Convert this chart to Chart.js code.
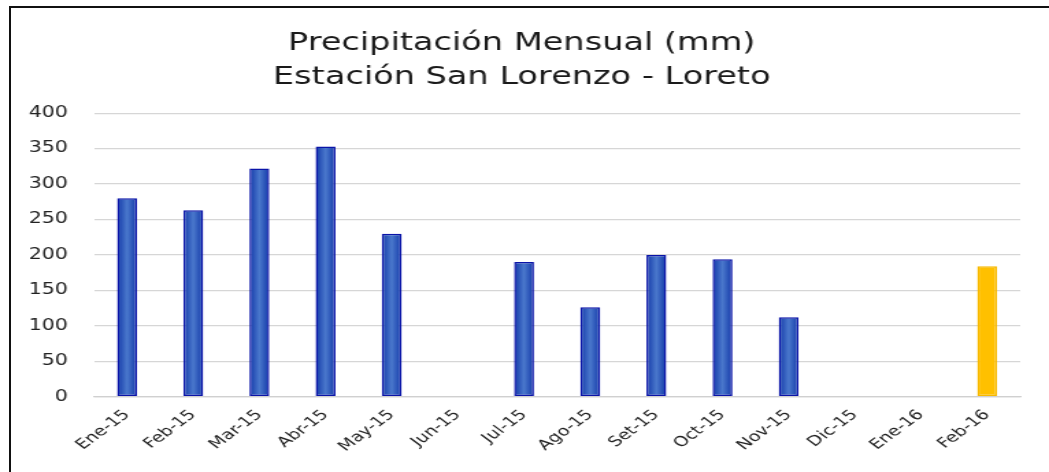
<!DOCTYPE html>
<html>
<head>
<meta charset="utf-8">
<script src="https://cdn.jsdelivr.net/npm/chart.js@4.4.0/dist/chart.umd.min.js"></script>
<style>
  body { margin: 0; background: #fff; }
  #wrap { position: relative; width: 1049px; height: 472px; overflow: hidden; }
  #frame { position: absolute; left: 9px; top: 6px; right: -5px; bottom: -5px;
           border-left: 2px solid #111; border-top: 2px solid #111; }
  /* el grafico original esta estirado a lo ancho */
  canvas { position: absolute; left: 0; top: 0; width: 1049px !important; height: 472px !important; }
</style>
</head>
<body>
<div id="wrap">
  <div id="frame"></div>
  <canvas id="myChart" width="766" height="472"></canvas>
</div>
<script>
var meses = ['Ene-15', 'Feb-15', 'Mar-15', 'Abr-15', 'May-15', 'Jun-15', 'Jul-15',
             'Ago-15', 'Set-15', 'Oct-15', 'Nov-15', 'Dic-15', 'Ene-16', 'Feb-16'];
var precipitacion = [280, 263, 322, 353, 230, null, 190, 126, 200, 194, 112, null, null, 184];
var yTicks = [0, 50, 100, 150, 200, 250, 300, 350, 400];
var titulo = ['Precipitación Mensual (mm)', 'Estación San Lorenzo - Loreto'];

var ultimo = meses.length - 1;
var anchoBarra = 0.3;

// gradiente horizontal en cada barra (como en excel)
function relleno(context) {
    var chart = context.chart;
    var i = context.dataIndex;
    if (i === ultimo) return '#ffc000';
    var sx = chart.scales.x;
    var x = sx ? sx.getPixelForValue(i) : NaN;
    if (!isFinite(x) || !sx.width) return '#2f5ec0';
    var w = sx.width / meses.length * anchoBarra;
    var g = chart.ctx.createLinearGradient(x - w / 2, 0, x + w / 2, 0);
    g.addColorStop(0, '#1238a8');
    g.addColorStop(0.5, '#4a78cc');
    g.addColorStop(1, '#1238a8');
    return g;
}

var chartArea = document.getElementById('myChart').getContext('2d');
var myChart = new Chart(chartArea, {
    type: 'bar',
    data: {
        labels: meses,
        datasets: [{
            label: 'Precipitación',
            data: precipitacion,
            backgroundColor: relleno,
            borderColor: meses.map(function (m, i) { return i === ultimo ? '#f7b900' : '#0a14a8'; }),
            borderWidth: 1.5,
            borderSkipped: false,
            barPercentage: anchoBarra,
            categoryPercentage: 1
        }]
    },
    options: {
        responsive: false,
        animation: false,
        devicePixelRatio: 1,
        layout: { autoPadding: false, padding: { left: 2, right: 6, top: 27, bottom: 15 } },
        plugins: {
            legend: { display: false },
            tooltip: { enabled: false },
            title: {
                display: true,
                text: titulo,
                color: '#1a1a1a',
                font: { family: 'DejaVu Sans', size: 24.5, weight: 'normal', lineHeight: 1.37 },
                padding: { top: 0, bottom: 19 }
            }
        },
        scales: {
            x: {
                grid: { display: false },
                border: { display: true, color: '#d0d0d0', width: 1.2 },
                ticks: {
                    color: '#222',
                    font: { family: 'DejaVu Sans', size: 14 },
                    minRotation: 45,
                    maxRotation: 45,
                    padding: 2
                }
            },
            y: {
                min: 0,
                max: 400,
                afterBuildTicks: function (axis) {
                    axis.ticks = yTicks.map(function (v) { return { value: v }; });
                },
                grid: { color: '#d6d6d6', lineWidth: 1.2, drawTicks: false },
                border: { display: false },
                ticks: {
                    color: '#222',
                    font: { family: 'DejaVu Sans', size: 15 },
                    padding: 19
                }
            },
            // eje vacio a la derecha, solo para dejar margen
            margen: {
                position: 'right',
                grid: { display: false },
                border: { display: false },
                ticks: { display: false },
                afterFit: function (axis) { axis.width = 15; }
            }
        }
    }
});
myChart.update();
</script>
</body>
</html>
